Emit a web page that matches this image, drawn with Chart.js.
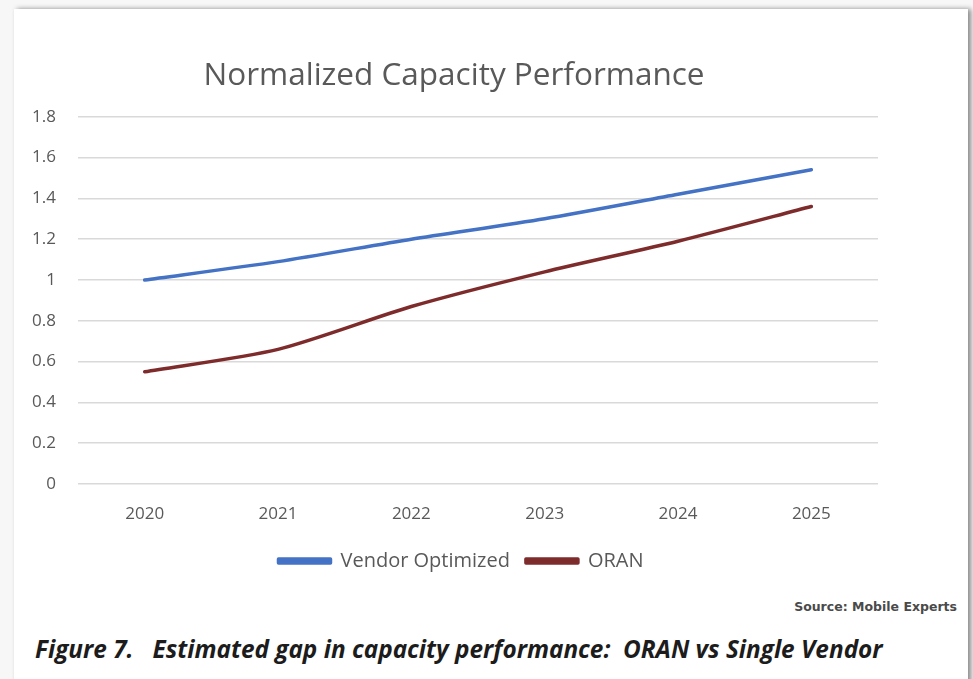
<!DOCTYPE html>
<html>
<head>
<meta charset="utf-8">
<script src="https://cdn.jsdelivr.net/npm/chart.js@4.4.1/dist/chart.umd.min.js"></script>
<style>
  html, body { margin:0; padding:0; background:#f7f7f7; width:973px; height:679px; overflow:hidden; }
  #card { position:absolute; left:14px; top:9px; width:954px; height:690px; background:#fff;
          box-shadow: 3px 0 5px rgba(0,0,0,0.45); }
  #wrap { position:absolute; left:0; top:0; width:900px; height:585px; }
  #source { position:absolute; right:16px; top:599px; font-family:"DejaVu Sans", sans-serif; font-size:12.5px;
            font-weight:bold; color:#4a4a4a; }
  #caption { position:absolute; left:35px; top:632px; font-family:"Open Sans", sans-serif; font-size:24.35px;
             font-weight:bold; font-style:italic; color:#1c1c1c; white-space:pre; }
</style>
</head>
<body>
<div id="card"></div>
<div id="wrap"><canvas id="c"></canvas></div>
<div id="source">Source: Mobile Experts</div>
<div id="caption">Figure 7.   Estimated gap in capacity performance:  ORAN vs Single Vendor</div>
<script>
const categories = ["2020", "2021", "2022", "2023", "2024", "2025"];
const vendorOptimized = [1.00, 1.09, 1.20, 1.30, 1.42, 1.54];
const oran = [0.55, 0.66, 0.87, 1.04, 1.19, 1.36];
const yTicks = [0, 0.2, 0.4, 0.6, 0.8, 1, 1.2, 1.4, 1.6, 1.8];

// shift the centred title and legend a little to the right, as in the reference
const shiftBlocks = {
  id: 'shiftBlocks',
  afterLayout(chart) {
    if (chart.titleBlock) { chart.titleBlock.left += 30; }
    if (chart.legend) { chart.legend.left += 44; chart.legend.adjustHitBoxes && chart.legend.adjustHitBoxes(); }
  }
};

const ctx = document.getElementById('c');
new Chart(ctx, {
  type: 'line',
  data: {
    labels: categories,
    datasets: [
      { label: 'Vendor Optimized', data: vendorOptimized, borderColor: '#4472C4', backgroundColor: '#4472C4',
        borderWidth: 3.5, pointRadius: 0, tension: 0.25, borderCapStyle: 'round', borderJoinStyle: 'round' },
      { label: 'ORAN', data: oran, borderColor: '#7E2B2B', backgroundColor: '#7E2B2B',
        borderWidth: 3.5, pointRadius: 0, tension: 0.25, borderCapStyle: 'round', borderJoinStyle: 'round' }
    ]
  },
  plugins: [shiftBlocks],
  options: {
    responsive: true,
    maintainAspectRatio: false,
    animation: false,
    layout: { padding: { left: 0, right: 22, top: 0, bottom: 4 } },
    plugins: {
      title: { display: true, text: 'Normalized Capacity Performance', color: '#595959',
               font: { family: 'Open Sans', size: 31.5, weight: 'normal' }, padding: { top: 57, bottom: 22 } },
      legend: { position: 'bottom',
        labels: { color: '#595959', font: { family: 'Open Sans', size: 20 }, boxWidth: 52, boxHeight: 4, padding: 16 } },
      tooltip: { enabled: false }
    },
    scales: {
      x: {
        offset: true,
        grid: { display: false, drawTicks: false },
        border: { display: false },
        ticks: { color: '#595959', font: { family: 'Open Sans', size: 17 }, padding: 20 },
        afterFit: (s) => { s.height = 51; }
      },
      y: {
        min: 0, max: 1.8,
        afterBuildTicks: (s) => { s.ticks = yTicks.map(v => ({ value: v })); },
        grid: { color: '#d9d9d9', lineWidth: 1.5, drawTicks: false },
        border: { display: false },
        ticks: { color: '#595959', font: { family: 'Open Sans', size: 17 }, padding: 22,
                 callback: (v) => String(Math.round(v * 10) / 10) },
        afterFit: (s) => { s.width = 78; }
      }
    }
  }
});
</script>
</body>
</html>
